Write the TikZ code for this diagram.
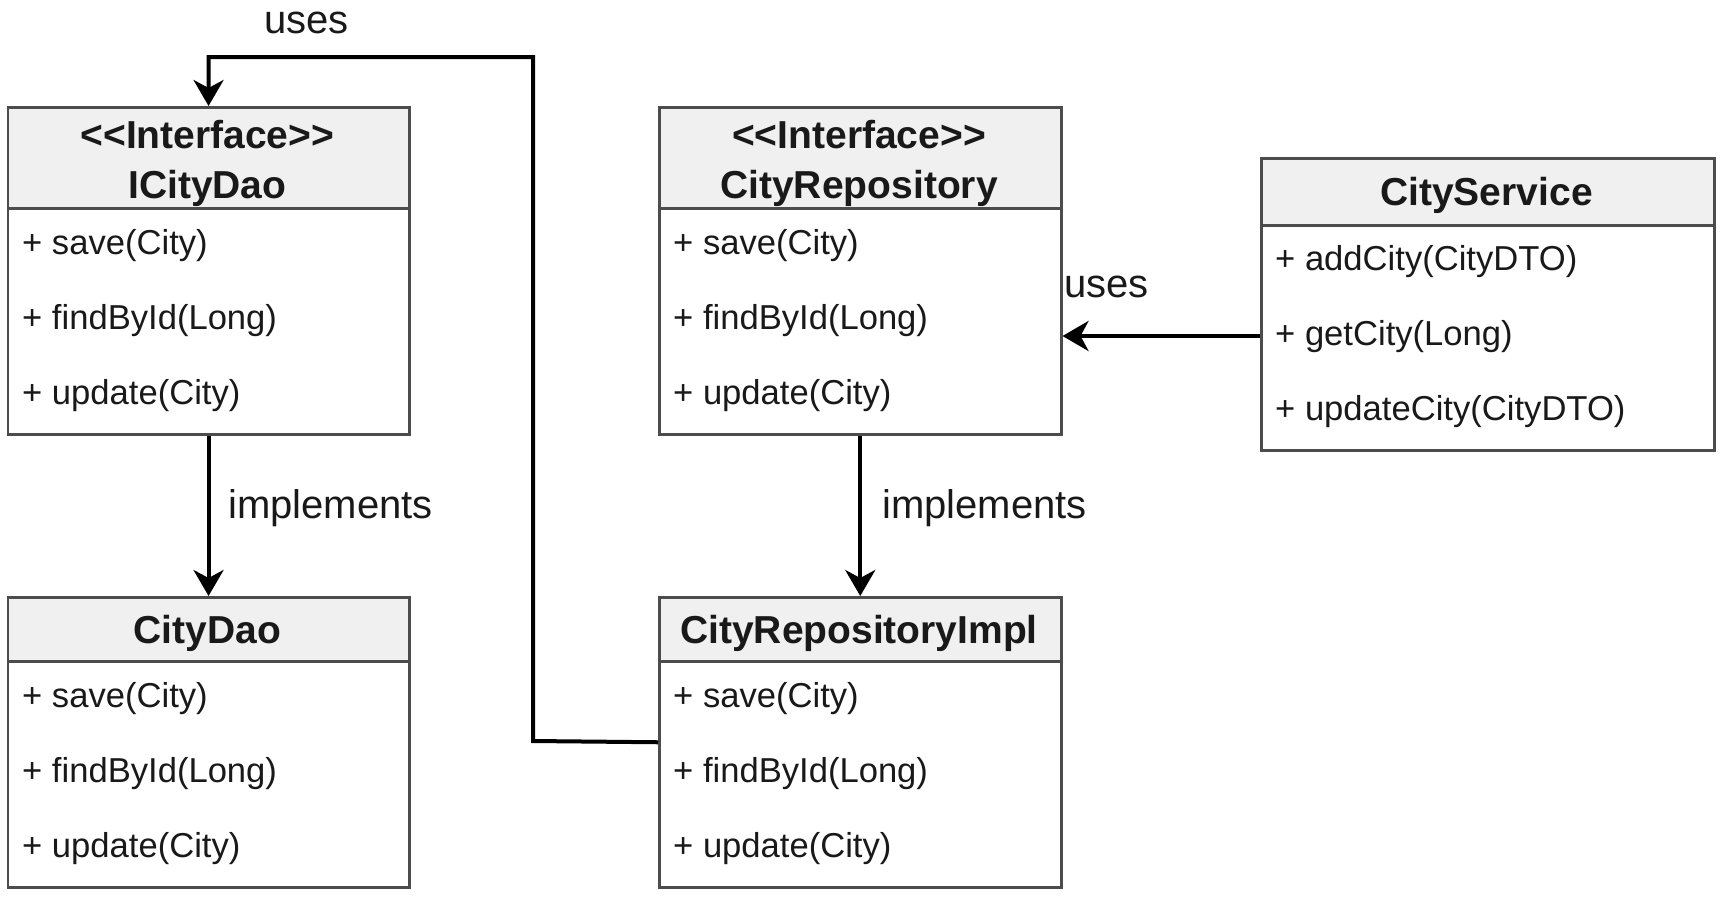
\documentclass[tikz,border=0pt]{standalone}
\usepackage{fontspec}
\setmainfont{Liberation Sans}
\usetikzlibrary{arrows.meta}
\newcommand{\headfont}{\fontsize{39}{50}\selectfont\bfseries}
\newcommand{\rowfont}{\fontsize{34.6}{75}\selectfont}
\newcommand{\lblfont}{\fontsize{40}{48}\selectfont}
\newcommand{\stereo}{<\kern0pt<Interface>\kern0pt>}
\begin{document}
\begin{tikzpicture}[x=1pt,y=-1pt,
  classbox/.style={draw=black!70, line width=2.5pt, fill=white, anchor=north west, inner sep=0pt},
  headbox/.style={draw=black!70, line width=2.5pt, fill=black!6, anchor=north west, inner sep=0pt},
  title/.style={anchor=base, align=center, inner sep=0pt, font=\headfont, text=black!90},
  rows/.style={anchor=base west, align=left, inner sep=0pt, font=\rowfont, text=black!90},
  conn/.style={line width=4pt, draw=black, -{Stealth[length=26pt,width=30pt,inset=8pt]}},
  lbl/.style={anchor=base west, font=\lblfont, inner sep=0pt, text=black!90}]
\useasboundingbox (0,0) rectangle (1720,906);

% ICityDao
\node[classbox, minimum width=401.4pt, minimum height=327pt] (icd) at (6.6,106) {};
\node[headbox, minimum width=401.4pt, minimum height=101pt] (icdh) at (icd.north west) {};
\node[title] (icdt) at (207.3,198) {\stereo\\ICityDao};
\node[rows] (icdr) at (22,404) {+ save(City)\\+ findById(Long)\\+ update(City)};

% CityRepository
\node[classbox, minimum width=402pt, minimum height=327pt] (cr) at (658,106) {};
\node[headbox, minimum width=402pt, minimum height=101pt] (crh) at (cr.north west) {};
\node[title] (crt) at (859,198) {\stereo\\CityRepository};
\node[rows] (crr) at (673,404) {+ save(City)\\+ findById(Long)\\+ update(City)};

% CityService
\node[classbox, minimum width=453pt, minimum height=292pt] (cs) at (1260,157) {};
\node[headbox, minimum width=453pt, minimum height=67pt] (csh) at (cs.north west) {};
\node[title] (cst) at (1486.5,205) {CityService};
\node[rows] (csr) at (1275,420) {+ addCity(CityDTO)\\+ getCity(Long)\\+ updateCity(CityDTO)};

% CityDao
\node[classbox, minimum width=401.4pt, minimum height=290pt] (cd) at (6.6,596) {};
\node[headbox, minimum width=401.4pt, minimum height=64pt] (cdh) at (cd.north west) {};
\node[title] (cdt) at (207.3,643) {CityDao};
\node[rows] (cdr) at (22,857) {+ save(City)\\+ findById(Long)\\+ update(City)};

% CityRepositoryImpl
\node[classbox, minimum width=402pt, minimum height=290pt] (cri) at (658,596) {};
\node[headbox, minimum width=402pt, minimum height=64pt] (crih) at (cri.north west) {};
\node[title] (crit) at (859,643) {CityRepositoryImpl};
\node[rows] (crir) at (673,857) {+ save(City)\\+ findById(Long)\\+ update(City)};

% connectors
\draw[conn] (icd.south) -- (cdh.north);
\node[lbl] (l1) at (228,518) {implements};
\draw[conn] (cr.south) -- (crih.north);
\node[lbl] (l2) at (882,518) {implements};

\coordinate (yline) at (0,336);
\draw[conn] (cs.west |- yline) -- (cr.east |- yline);
\node[lbl] (l3) at (1064,297) {uses};

\coordinate (corner1) at (533,741);
\coordinate (corner2) at (533,57);
\draw[conn] (cri.west) -- (corner1) -- (corner2) -| (icdh.north);
\node[lbl] (l4) at (264,33) {uses};
\end{tikzpicture}
\end{document}
